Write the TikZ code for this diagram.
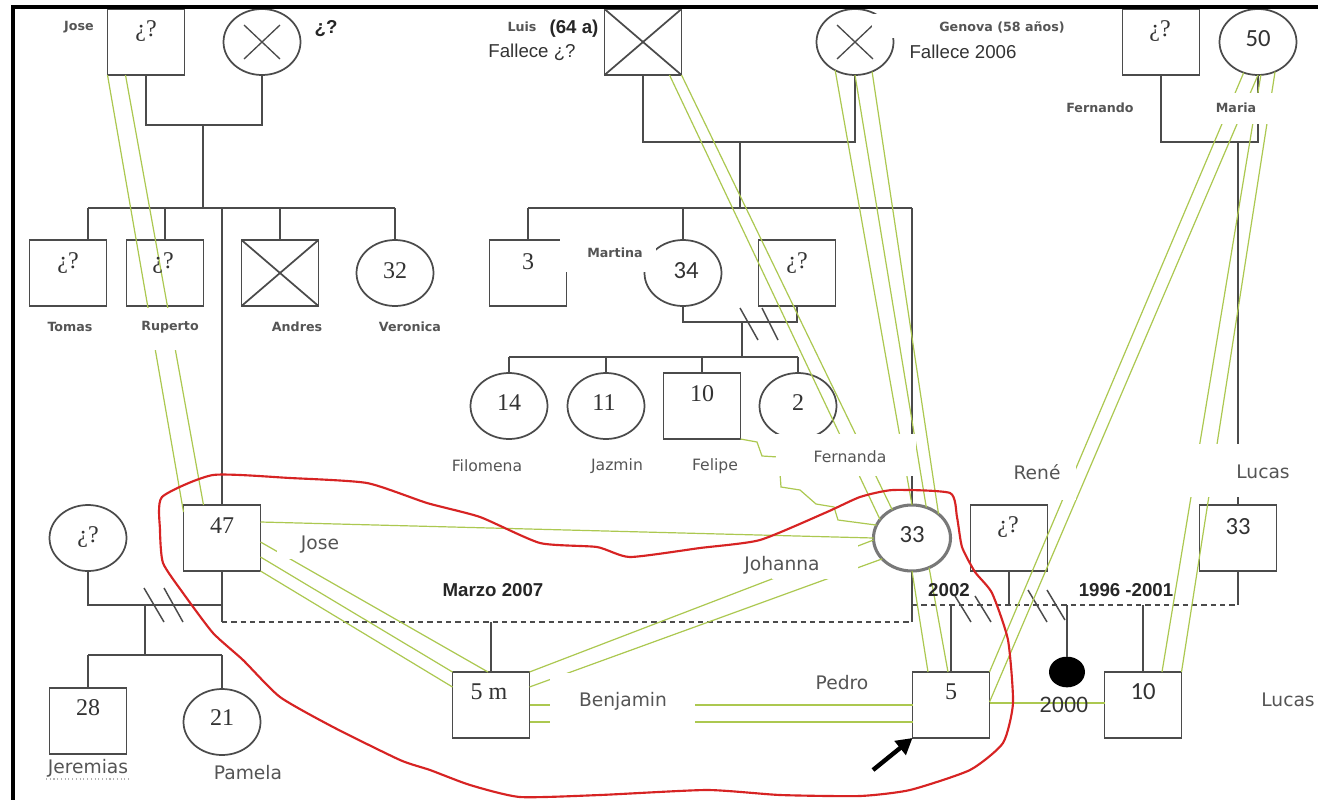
\documentclass[tikz,border=0pt]{standalone}
\usepackage{fontspec}
\setmainfont{Liberation Serif}
\newfontfamily\vsans{DejaVu Sans}
\newfontfamily\asans{Liberation Sans}
\newfontfamily\csans{Carlito}
\usetikzlibrary{shapes.geometric,arrows.meta}
\definecolor{lc}{RGB}{75,75,75}
\definecolor{gc}{RGB}{172,200,80}
\definecolor{rc}{RGB}{215,35,35}
\definecolor{tc}{RGB}{85,85,85}
\definecolor{ic}{RGB}{120,120,120}
\begin{document}
\begin{tikzpicture}[x=0.75pt,y=-0.75pt,
 ln/.style={draw=lc,line width=1.3pt},
 sq/.style={rectangle,draw=lc,line width=1.3pt,minimum width=57.75pt,minimum height=49.5pt,inner sep=0pt,outer sep=0pt},
 ci/.style={ellipse,draw=lc,line width=1.3pt,minimum width=57.75pt,minimum height=49.5pt,inner sep=0pt,outer sep=0pt},
 idx/.style={draw=ic,line width=2.3pt},
 dsh/.style={draw=lc,line width=1.1pt,dash pattern=on 4pt off 3pt},
 emo/.style={draw=gc,line width=0.9pt},
 wb/.style={fill=white,draw=none},
 sl/.style={draw=lc,line width=1.1pt},
 num/.style={inner sep=0pt,text=black!80,font=\fontsize{18}{18}\selectfont},
 cnum/.style={inner sep=0pt,text=black!80,font=\csans\fontsize{18.5}{18}\selectfont},
 nb/.style={inner sep=0pt,text=tc,font=\vsans\bfseries\fontsize{9.5}{10}\selectfont},
 nm/.style={inner sep=0pt,text=tc,font=\vsans\fontsize{11.7}{12}\selectfont},
 nl/.style={inner sep=0pt,text=tc,font=\vsans\fontsize{14}{14}\selectfont},
 ar/.style={inner sep=0pt,text=black!80,font=\asans\fontsize{14}{14}\selectfont},
 arb/.style={inner sep=0pt,text=black!85,font=\asans\bfseries\fontsize{14}{14}\selectfont}
]
\useasboundingbox (0,0) rectangle (1318,800);
\fill[white] (0,0) rectangle (1318,800);

% ---------- persons ----------
\node[sq] (jT)  at (146,42) {};
\node[ci] (jW)  at (262,42) {};
\node[sq] (luis) at (643,42) {};
\node[ci] (gen) at (855,42) {};
\node[sq] (fer) at (1161,42) {};
\node[ci] (mar) at (1258,42) {};

\node[sq] (tom) at (68,273) {};
\node[sq] (rup) at (165,273) {};
\node[sq] (and) at (280,273) {};
\node[ci] (ver) at (395,273) {};
\node[sq] (s3)  at (528,273) {};
\node[ci] (mat) at (683,273) {};
\node[sq] (mh)  at (797,273) {};

\node[ci] (fil) at (509,406) {};
\node[ci] (jaz) at (606,406) {};
\node[sq] (fel) at (702,406) {};
\node[ci] (fda) at (798,406) {};

\node[ci] (exw) at (88,538) {};
\node[sq] (j47) at (222,538) {};
\node[ci,idx] (joh) at (912,538) {};
\node[sq] (ren) at (1009,538) {};
\node[sq] (luc) at (1238,538) {};

\node[sq] (jer) at (88,721) {};
\node[ci] (pam) at (222,722) {};
\node[sq] (ben) at (491,705) {};
\node[sq] (ped) at (951,705) {};
\node[sq] (ljr) at (1143,705) {};
\node[ellipse,fill=black,minimum width=27pt,minimum height=23pt,inner sep=0pt,outer sep=0pt] (dot) at (1067,672) {};

% deceased marks
\draw[ln] (luis.north west) -- (luis.south east) (luis.north east) -- (luis.south west);
\draw[ln] (and.north west) -- (and.south east) (and.north east) -- (and.south west);
\draw[ln,line width=1pt] ([shift={(-18,-17)}]jW.center) -- ([shift={(18,17)}]jW.center)
  ([shift={(18,-17)}]jW.center) -- ([shift={(-18,17)}]jW.center);
\draw[ln,line width=1pt] ([shift={(-18,-17)}]gen.center) -- ([shift={(18,17)}]gen.center)
  ([shift={(18,-17)}]gen.center) -- ([shift={(-18,17)}]gen.center);

% ---------- family lines ----------
\coordinate (jk) at (203,125);
\coordinate (ts) at (88,208);
\draw[ln] (jT.south) |- (jk) -| (jW.south);
\draw[ln] (jk) -- (jk |- ts);
\draw[ln] (ts) -- (ver.north |- ts);
\draw[ln] (ts) -- (ts |- tom.north);
\draw[ln] (rup.north) -- (rup.north |- ts);
\draw[ln] (j47.north) -- (j47.north |- ts);
\draw[ln] (and.north) -- (and.north |- ts);
\draw[ln] (ver.north) -- (ver.north |- ts);

\coordinate (lk) at (740,142);
\coordinate (ls) at (740,208);
\draw[ln] (luis.south) |- (lk) -| (gen.south);
\draw[ln] (lk) -- (ls);
\draw[ln] (s3.north |- ls) -- (joh.north |- ls);
\draw[ln] (s3.north) -- (s3.north |- ls);
\draw[ln] (mat.north) -- (mat.north |- ls);
\draw[ln] (joh.north) -- (joh.north |- ls);

\coordinate (mk) at (742,322);
\coordinate (ms) at (742,357);
\draw[ln] (mat.south) |- (mk) -| (mh.south);
\draw[ln] (mk) -- (ms);
\draw[ln] (fil.north |- ms) -- (fda.north |- ms);
\draw[ln] (fil.north) -- (fil.north |- ms);
\draw[ln] (jaz.north) -- (jaz.north |- ms);
\draw[ln] (fel.north) -- (fel.north |- ms);
\draw[ln] (fda.north) -- (fda.north |- ms);
\draw[sl] (740,308) -- (758,340) (762,308) -- (778,340);

\coordinate (fk) at (1238,142);
\draw[ln] (fer.south) |- (fk) -| (mar.south);
\draw[ln] (fk) -- (luc.north);

\coordinate (ek) at (145,605);
\coordinate (es) at (145,655);
\draw[ln] (exw.south) |- (ek) -| (j47.south);
\draw[ln] (ek) -- (es);
\draw[ln] (jer.north |- es) -- (pam.north |- es);
\draw[ln] (jer.north) -- (jer.north |- es);
\draw[ln] (pam.north) -- (pam.north |- es);
\draw[sl] (144,588) -- (164,622) (164,588) -- (183,622);

\coordinate (jd) at (222,622);
\draw[ln] (ek -| j47.south) -- (jd);
\draw[dsh] (jd) -- (jd -| joh.south);
\draw[ln] (joh.south) -- (jd -| joh.south);
\draw[ln] (ben.north) -- (ben.north |- jd);

\coordinate (rd) at (912,605);
\draw[dsh] (rd) -- (rd -| luc.south);
\draw[ln] (ren.south) -- (ren.south |- rd);
\draw[ln] (luc.south) -- (luc.south |- rd);
\draw[ln] (ped.north) -- (ped.north |- rd);
\draw[ln] (dot.north) -- (dot.north |- rd);
\draw[ln] (ljr.north) -- (ljr.north |- rd);
\draw[sl] (955,596) -- (971,622) (975,596) -- (991,622);
\draw[sl] (1028,590) -- (1047,622) (1047,590) -- (1065,620);

% ---------- emotional (green) lines ----------
\draw[emo] (jT.south west) -- ([shift={(0,7)}]j47.north west);
\draw[emo] ([shift={(18,0)}]jT.south west) -- ([shift={(20,0)}]j47.north west);
\draw[emo] ([shift={(-12,0)}]luis.south east) -- (joh.150);
\draw[emo] (luis.south east) -- (joh.125);
\draw[emo] (gen.235) -- (joh.north);
\draw[emo] (gen.south) -- (joh.65);
\draw[emo] (gen.300) -- (joh.42);
\draw[emo] (joh.south) -- ([shift={(-23,0)}]ped.north);
\draw[emo] (joh.300) -- ([shift={(-3,0)}]ped.north);
\draw[emo] (mar.245) -- (ped.north east);
\draw[emo] (mar.south) -- ([shift={(0,-3)}]ped.east);
\draw[emo] (mar.275) -- ([shift={(19,0)}]ljr.north);
\draw[emo] (mar.300) -- (ljr.north east);
\draw[emo] ([shift={(0,-16)}]j47.east) -- (joh.west);
\draw[emo] ([shift={(0,4)}]j47.east) -- ([shift={(-3,0)}]ben.north);
\draw[emo] ([shift={(0,19)}]j47.east) -- (ben.north west);
\draw[emo] (j47.south east) -- ([shift={(0,-18)}]ben.west);
\draw[emo] (ben.north east) -- ([shift={(0,2)}]joh.west);
\draw[emo] ([shift={(0,-18)}]ben.east) -- (joh.215);
\draw[emo] (ben.east) -- (ped.west);
\draw[emo] ([shift={(0,17)}]ben.east) -- ([shift={(0,17)}]ped.west);
\draw[emo] ([shift={(0,-2)}]ped.east) -- ([shift={(0,-2)}]ljr.west);
\draw[emo] (fel.south east) -- (757,442) -- (762,456) -- (778,457) -- (780,473) -- (781,487)
  -- (800,490) -- (816,504) -- (834,507) -- (838,520) -- (joh.160);

% ---------- white label boxes ----------
\fill[wb] (40,5) rectangle (107,40);
\fill[wb] (872,14) rectangle (1070,38);
\fill[wb] (1205,93) rectangle (1285,124);
\fill[wb] (126,308) rectangle (212,350);
\fill[wb] (560,236) rectangle (656,272);
\fill[wb] (776,434) rectangle (916,476);
\fill[wb] (277,530) rectangle (370,559);
\fill[wb] (772,545) rectangle (858,579);
\fill[wb] (550,673) rectangle (695,735);
\fill[wb] (995,455) rectangle (1076,500);
\fill[wb] (1188,444) rectangle (1300,497);

% ---------- texts in symbols ----------
\node[num] (tjT) at (146,31) {¿?};
\node[num] (tfer) at (1160,31) {¿?};
\node[cnum] (tmar) at (1258,39) {50};
\node[num] (ttom) at (68,263) {¿?};
\node[num] (trup) at (163,263) {¿?};
\node[num] (tver) at (395,271) {32};
\node[num] (ts3) at (528,262) {3};
\node[cnum] (tmat) at (686,271) {34};
\node[num] (tmh) at (797,263) {¿?};
\node[num] (tfil) at (509,403) {14};
\node[num] (tjaz) at (604,403) {11};
\node[num] (tfel) at (702,394) {10};
\node[num] (tfda) at (798,403) {2};
\node[num] (texw) at (88,537) {¿?};
\node[num] (tj47) at (222,526) {47};
\node[cnum] (tjoh) at (912,535) {33};
\node[num] (tren) at (1008,527) {¿?};
\node[cnum] (tluc) at (1238,527) {33};
\node[num] (tjer) at (88,708) {28};
\node[num] (tpam) at (222,718) {21};
\node[num] (tben) at (489,692) {5 m};
\node[num] (tped) at (951,692) {5};
\node[cnum] (tljr) at (1143,692) {10};

% ---------- labels ----------
\node[nb] (lJose) at (79,27) {Jose};
\node[arb] (lwq) at (326,29) {¿?};
\node[nb] (lLuis) at (522,27) {Luis};
\node[arb] (l64) at (574,29) {(64 a)};
\node[ar] (lfal1) at (532,52) {Fallece ¿?};
\node[nb] (lgen) at (1002,27) {Genova (58 años)};
\node[ar] (lfal2) at (963,52) {Fallece 2006};
\node[nb] (lfer) at (1100,108) {Fernando};
\node[nb] (lmar) at (1236,108) {Maria};
\node[nb] (ltom) at (70,327) {Tomas};
\node[nb] (lrup) at (170,327) {Ruperto};
\node[nb] (land) at (297,327) {Andres};
\node[nb] (lver) at (410,327) {Veronica};
\node[nb] (lmat) at (615,253) {Martina};
\node[nm] (lfil) at (487,466) {Filomena};
\node[nm] (ljaz) at (617,466) {Jazmin};
\node[nm] (lfel) at (715,466) {Felipe};
\node[nm] (lfda) at (850,457) {Fernanda};
\node[nl] (lj47) at (320,545) {Jose};
\node[nl] (ljoh) at (782,565) {Johanna};
\node[nl] (lben) at (623,701) {Benjamin};
\node[nl] (lped) at (842,683) {Pedro};
\node[nl] (lren) at (1037,472) {René};
\node[nl] (lluc) at (1263,472) {Lucas};
\node[nl] (lljr) at (1288,700) {Lucas};
\node[nl] (ljer) at (88,768) {Jeremias};
\node[nl] (lpam) at (248,773) {Pamela};
\node[arb] (lmarzo) at (493,590) {Marzo 2007};
\node[arb] (l2002) at (949,590) {2002};
\node[arb] (l1996) at (1126,590) {1996 -2001};
\node[ar,font=\asans\fontsize{16.5}{16}\selectfont] (l2000) at (1064,705) {2000};
\draw[gray!60,line width=0.8pt,dotted] (46,779) -- (131,779);

% ---------- red outline ----------
\draw[rc,line width=1.6pt] plot[smooth cycle,tension=0.35] coordinates {
 (162,497) (213,475) (290,478) (367,483) (427,503) (480,517) (540,543)
 (597,547) (630,557) (700,548) (760,540) (827,512) (860,497) (893,490) (950,493)
 (957,517) (962,547) (975,572) (992,593) (1008,640) (1013,703) (1003,743)
 (970,770) (910,790) (860,796) (780,795) (707,790) (600,795) (520,797) (470,785)
 (430,770) (400,760) (333,727) (280,697) (243,660) (213,633) (183,593) (163,563) (160,530)};

% ---------- arrow ----------
\coordinate (arT) at (873,770);
\draw[black,line width=3.3pt,-{Triangle[length=12pt,width=13pt]}] (arT) -- (ped.south west);

% ---------- frame ----------
\draw[black,line width=3pt] (13,800) -- (13,7) -- (1318,7);
\end{tikzpicture}
\end{document}
